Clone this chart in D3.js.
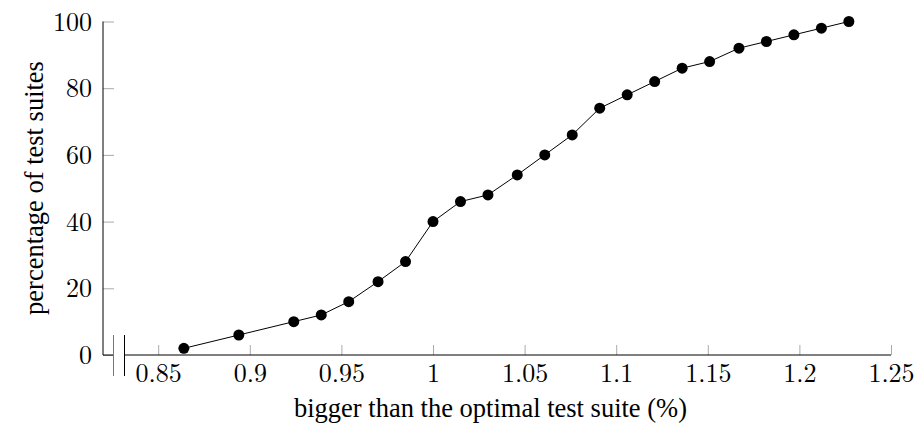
<!DOCTYPE html>
<meta charset="utf-8">
<script src="https://d3js.org/d3.v7.min.js"></script>
<style>
  body { margin: 0; background: #fff; }
</style>
<div id="my_dataviz"></div>
<script>

// Data
var xValues = [0.864, 0.894, 0.924, 0.939, 0.954, 0.970, 0.985, 1.000, 1.015, 1.030,
               1.046, 1.061, 1.076, 1.091, 1.106, 1.121, 1.136, 1.151, 1.167, 1.182,
               1.197, 1.212, 1.227];
var yValues = [2, 6, 10, 12, 16, 22, 28, 40, 46, 48,
               54, 60, 66, 74, 78, 82, 86, 88, 92, 94,
               96, 98, 100];
var xTicks = [0.85, 0.9, 0.95, 1, 1.05, 1.1, 1.15, 1.2, 1.25];
var yTicks = [0, 20, 40, 60, 80, 100];

var W = 916, H = 427;
var yAxisX = 103, breakX1 = 113.5, breakX2 = 124.5;
var tickFont = 'Latin Modern Roman';
var labelFont = 'Liberation Serif';

var svg = d3.select('#my_dataviz')
  .append('svg')
    .attr('width', W)
    .attr('height', H);

// Scales
var x = d3.scaleLinear().domain([0.85, 1.25]).range([158.2, 891]);
var y = d3.scaleLinear().domain([0, 100]).range([355, 21.5]);

// X axis (ticks pointing inward)
var gx = svg.append('g')
  .attr('transform', 'translate(0,' + y(0) + ')')
  .call(d3.axisBottom(x).tickValues(xTicks).tickSize(-10)
        .tickFormat(function(d) { return d3.format('')(d); }));
gx.select('.domain').remove();
gx.attr('font-family', tickFont).attr('font-size', 26);
gx.selectAll('.tick line').attr('stroke', '#aaa');
gx.selectAll('.tick text')
  .attr('y', 27).attr('dy', null)
  .attr('font-family', tickFont)
  .attr('font-size', 26)
  .attr('fill', '#000');

// Y axis (ticks pointing inward)
var gy = svg.append('g')
  .attr('transform', 'translate(' + yAxisX + ',0)')
  .call(d3.axisLeft(y).tickValues(yTicks).tickSize(-11).tickPadding(11));
gy.select('.domain').remove();
gy.attr('font-family', tickFont).attr('font-size', 26);
gy.selectAll('.tick line').attr('stroke', '#aaa');
gy.selectAll('.tick text')
  .attr('dy', '0.33em')
  .attr('font-family', tickFont)
  .attr('font-size', 26)
  .attr('fill', '#000');

// Axis lines with the x discontinuity
svg.append('line')
  .attr('x1', yAxisX).attr('x2', yAxisX)
  .attr('y1', y(100)).attr('y2', y(0))
  .attr('stroke', '#000');
svg.append('line')
  .attr('x1', yAxisX).attr('x2', breakX1)
  .attr('y1', y(0)).attr('y2', y(0))
  .attr('stroke', '#000');
svg.append('line')
  .attr('x1', breakX2).attr('x2', x(1.25))
  .attr('y1', y(0)).attr('y2', y(0))
  .attr('stroke', '#000');
svg.append('line')
  .attr('x1', breakX1).attr('x2', breakX1)
  .attr('y1', y(0) - 20).attr('y2', y(0) + 21)
  .attr('stroke', '#777');
svg.append('line')
  .attr('x1', breakX2).attr('x2', breakX2)
  .attr('y1', y(0) - 20).attr('y2', y(0) + 21)
  .attr('stroke', '#000');

// Line
var pts = xValues.map(function(d, i) { return [d, yValues[i]]; });
svg.append('path')
  .datum(pts)
  .attr('fill', 'none')
  .attr('stroke', '#000')
  .attr('stroke-width', 1)
  .attr('d', d3.line()
    .x(function(d) { return x(d[0]); })
    .y(function(d) { return y(d[1]); }));

// Points
svg.append('g')
  .selectAll('circle')
  .data(pts)
  .enter()
  .append('circle')
    .attr('cx', function(d) { return x(d[0]); })
    .attr('cy', function(d) { return y(d[1]); })
    .attr('r', 5.5)
    .attr('fill', '#000');

// Axis labels
svg.append('text')
  .attr('text-anchor', 'middle')
  .attr('x', 490.5)
  .attr('y', 417)
  .attr('font-family', labelFont)
  .attr('font-size', 26.5)
  .text('bigger than the optimal test suite (%)');

svg.append('text')
  .attr('text-anchor', 'middle')
  .attr('transform', 'translate(43,188) rotate(-90)')
  .attr('font-family', labelFont)
  .attr('font-size', 26.5)
  .text('percentage of test suites');

</script>
